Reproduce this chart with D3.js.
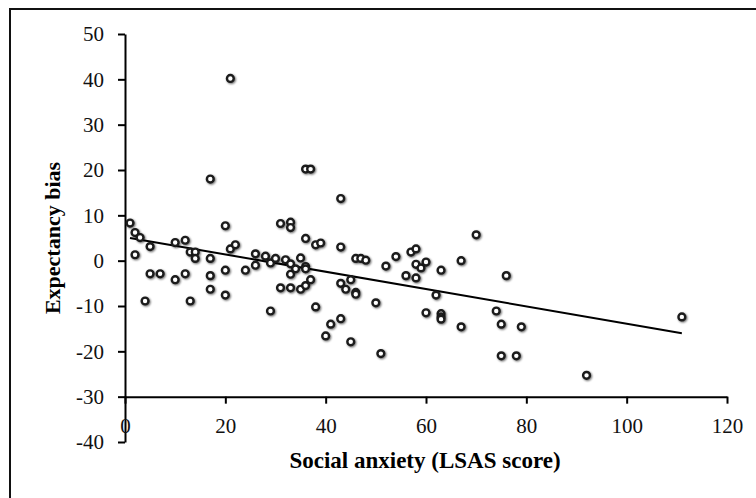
<!DOCTYPE html>
<html>
<head>
<meta charset="utf-8">
<script src="https://cdn.jsdelivr.net/npm/d3@7"></script>
<style>
body { margin: 0; background: #fff; }
svg { display: block; }
.axis text { font-family: "Liberation Serif", "Times New Roman", serif; font-size: 21px; fill: #111; }
.axis path, .axis line { stroke: #000; stroke-width: 2; }
.title { font-family: "Liberation Serif", "Times New Roman", serif; font-weight: bold; fill: #000; }
</style>
</head>
<body>
<svg id="chart" width="756" height="498"></svg>
<script>
// LSAS score (x) and expectancy bias (y)
const lsas = [1, 2, 3, 2, 4, 5, 5, 7, 10, 10, 12, 12, 13, 13, 14, 14, 17, 17, 17, 17,
  20, 20, 20, 21, 21, 22, 24, 26, 26, 28, 29, 29, 30, 31, 31, 32, 33, 33, 33, 33,
  33, 34, 35, 35, 36, 36, 36, 36, 36, 37, 37, 38, 38, 39, 40, 41, 43, 43, 43, 43,
  44, 45, 45, 46, 46, 46, 47, 48, 50, 51, 52, 54, 56, 57, 58, 58, 58, 59, 60, 60,
  62, 63, 63, 63, 63, 67, 67, 70, 74, 75, 75, 76, 78, 79, 92, 111];
const bias = [8.3, 6.2, 5.1, 1.3, -8.9, 3.1, -2.9, -2.9, 4, -4.2, 4.5, -2.9, -8.9, 1.9, 1.9, 0.5, 18, 0.5, -3.3, -6.3,
  7.7, -2.1, -7.6, 40.2, 2.6, 3.5, -2.1, 1.5, -1, 1, -0.5, -11.1, 0.5, 8.2, -6, 0.2, 8.5, 7.3, -0.7, -3,
  -6, -1.8, 0.6, -6.3, 4.9, -1.3, -1.8, -5.5, 20.2, 20.2, -4.2, 3.5, -10.2, 3.9, -16.6, -14, 13.7, 3, -5, -12.8,
  -6.3, -17.9, -4.2, 0.5, -7, -7.4, 0.5, 0.1, -9.3, -20.5, -1.2, 0.9, -3.3, 1.9, 2.6, -0.8, -3.8, -1.6, -0.3, -11.5,
  -7.6, -2.1, -11.7, -12.4, -12.9, -14.6, 0, 5.7, -11.1, -14, -21, -3.3, -21, -14.6, -25.3, -12.4];

// linear trend line end points
const trendX = [1, 111];
const trendY = [5, -16];

const xTicks = [0, 20, 40, 60, 80, 100, 120];
const yTicks = [-40, -30, -20, -10, 0, 10, 20, 30, 40, 50];

const data = lsas.map((d, i) => ({ x: d, y: bias[i] }));

const svg = d3.select("#chart");

const x = d3.scaleLinear().domain([0, 120]).range([125, 727]);
const y = d3.scaleLinear().domain([-40, 50]).range([442, 34]);

// outer frame
svg.append("rect")
  .attr("x", 10).attr("y", 9)
  .attr("width", 760).attr("height", 500)
  .attr("fill", "none").attr("stroke", "#111").attr("stroke-width", 2);

// soft shadow for the markers
const filt = svg.append("defs").append("filter").attr("id", "soft")
  .attr("x", "-50%").attr("y", "-50%").attr("width", "200%").attr("height", "200%");
filt.append("feGaussianBlur").attr("in", "SourceAlpha").attr("stdDeviation", 1.3).attr("result", "b");
filt.append("feOffset").attr("in", "b").attr("dx", 0.5).attr("dy", 1.2).attr("result", "o");
filt.append("feComponentTransfer").attr("in", "o").attr("result", "s")
  .append("feFuncA").attr("type", "linear").attr("slope", 0.6);
const merge = filt.append("feMerge");
merge.append("feMergeNode").attr("in", "s");
merge.append("feMergeNode").attr("in", "SourceGraphic");

// Y axis
svg.append("g").attr("class", "axis")
  .attr("transform", `translate(${x(0)},0)`)
  .call(d3.axisLeft(y).tickValues(yTicks).tickSize(7).tickSizeOuter(0).tickPadding(14))
  .call(g => g.selectAll("text").text(d => d < 0 ? "-" + Math.abs(d) : d));

// X axis (sits at -30)
svg.append("g").attr("class", "axis")
  .attr("transform", `translate(0,${y(-30)})`)
  .call(d3.axisBottom(x).tickValues(xTicks).tickSize(7).tickSizeOuter(0).tickPadding(14));

// trend line
svg.append("line")
  .attr("x1", x(trendX[0])).attr("y1", y(trendY[0]))
  .attr("x2", x(trendX[1])).attr("y2", y(trendY[1]))
  .attr("stroke", "#000").attr("stroke-width", 2);

// markers
svg.append("g").attr("filter", "url(#soft)")
  .selectAll("circle")
  .data(data)
  .join("circle")
  .attr("cx", d => x(d.x))
  .attr("cy", d => y(d.y))
  .attr("r", 3.4)
  .attr("fill", "#fff")
  .attr("stroke", "#1a1a1a")
  .attr("stroke-width", 2.4);

// titles
svg.append("text").attr("class", "title")
  .attr("x", 425).attr("y", 468)
  .attr("text-anchor", "middle")
  .style("font-size", "23px")
  .text("Social anxiety (LSAS score)");

svg.append("text").attr("class", "title")
  .attr("transform", `translate(60,238) rotate(-90)`)
  .attr("text-anchor", "middle")
  .style("font-size", "22px")
  .text("Expectancy bias");
</script>
</body>
</html>
